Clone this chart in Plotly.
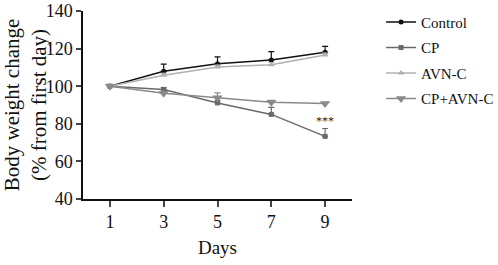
import plotly.graph_objects as go

days = [1, 3, 5, 7, 9]
series_names = ["Control", "CP", "AVN-C", "CP+AVN-C"]
control = [100, 107.9, 111.9, 114.0, 118.0]
control_err = [0.5, 3.8, 3.7, 4.4, 3.2]
cp = [100, 98.3, 91.1, 85.0, 73.3]
cp_err = [0.5, 1.0, 1.2, 3.7, 4.2]
avn = [100, 105.8, 110.2, 111.4, 116.6]
avn_err = [0.5, 1.0, 1.0, 1.2, 1.0]
cpavn = [100, 96.2, 93.9, 91.5, 90.8]
cpavn_err = [1.0, 1.0, 2.5, 1.0, 0.5]

colors = ["#111111", "#6a6a6a", "#b0b0b0", "#8a8a8a"]
symbols = ["circle", "square", "triangle-up", "triangle-down"]
sizes = [5, 5, 6, 9]
values = [control, cp, avn, cpavn]
errs = [control_err, cp_err, avn_err, cpavn_err]

font = "Liberation Serif, Times New Roman, serif"

fig = go.Figure()
for i in range(4):
    fig.add_trace(go.Scatter(
        x=days, y=values[i], name=series_names[i], mode="lines+markers",
        line=dict(color=colors[i], width=1.5),
        marker=dict(symbol=symbols[i], size=sizes[i], color=colors[i]),
        error_y=dict(type="data", array=errs[i], arrayminus=[0]*5, symmetric=False,
                     color=colors[i], thickness=1.2, width=3),
        legendgroup=series_names[i],
    ))

fig.add_annotation(x=9, y=81.5, text="***", showarrow=False,
                   font=dict(family=font, size=12, color="#222222"))

fig.update_layout(
    width=498, height=265,
    margin=dict(l=83, r=146, t=11, b=66, autoexpand=False),
    plot_bgcolor="white", paper_bgcolor="white",
    font=dict(family=font, color="#111", size=15),
    showlegend=True,
    legend=dict(x=1.108, y=1.028, xanchor="left", yanchor="top",
                font=dict(family=font, size=15, color="#111"),
                tracegroupgap=3, itemwidth=30, bgcolor="rgba(0,0,0,0)"),
    xaxis=dict(range=[0, 10], tickvals=days, ticks="outside", ticklen=6, tickwidth=1.5,
               showline=True, linecolor="#111", linewidth=1.5, showgrid=False, zeroline=False,
               tickfont=dict(size=18), ticklabeloverflow="allow",
               title=dict(text="Days", font=dict(size=19), standoff=9)),
    yaxis=dict(range=[40, 140], dtick=20, ticks="outside", ticklen=5, tickwidth=1.5,
               showline=True, linecolor="#111", linewidth=1.5, showgrid=False, zeroline=False,
               tickfont=dict(size=18), ticklabeloverflow="allow",
               title=dict(text="Body weight change<br>(% from first day)", font=dict(size=21), standoff=3)),
)

fig.write_html("out.html", config={"displayModeBar": False},
               post_script="document.body.style.margin='0';")
